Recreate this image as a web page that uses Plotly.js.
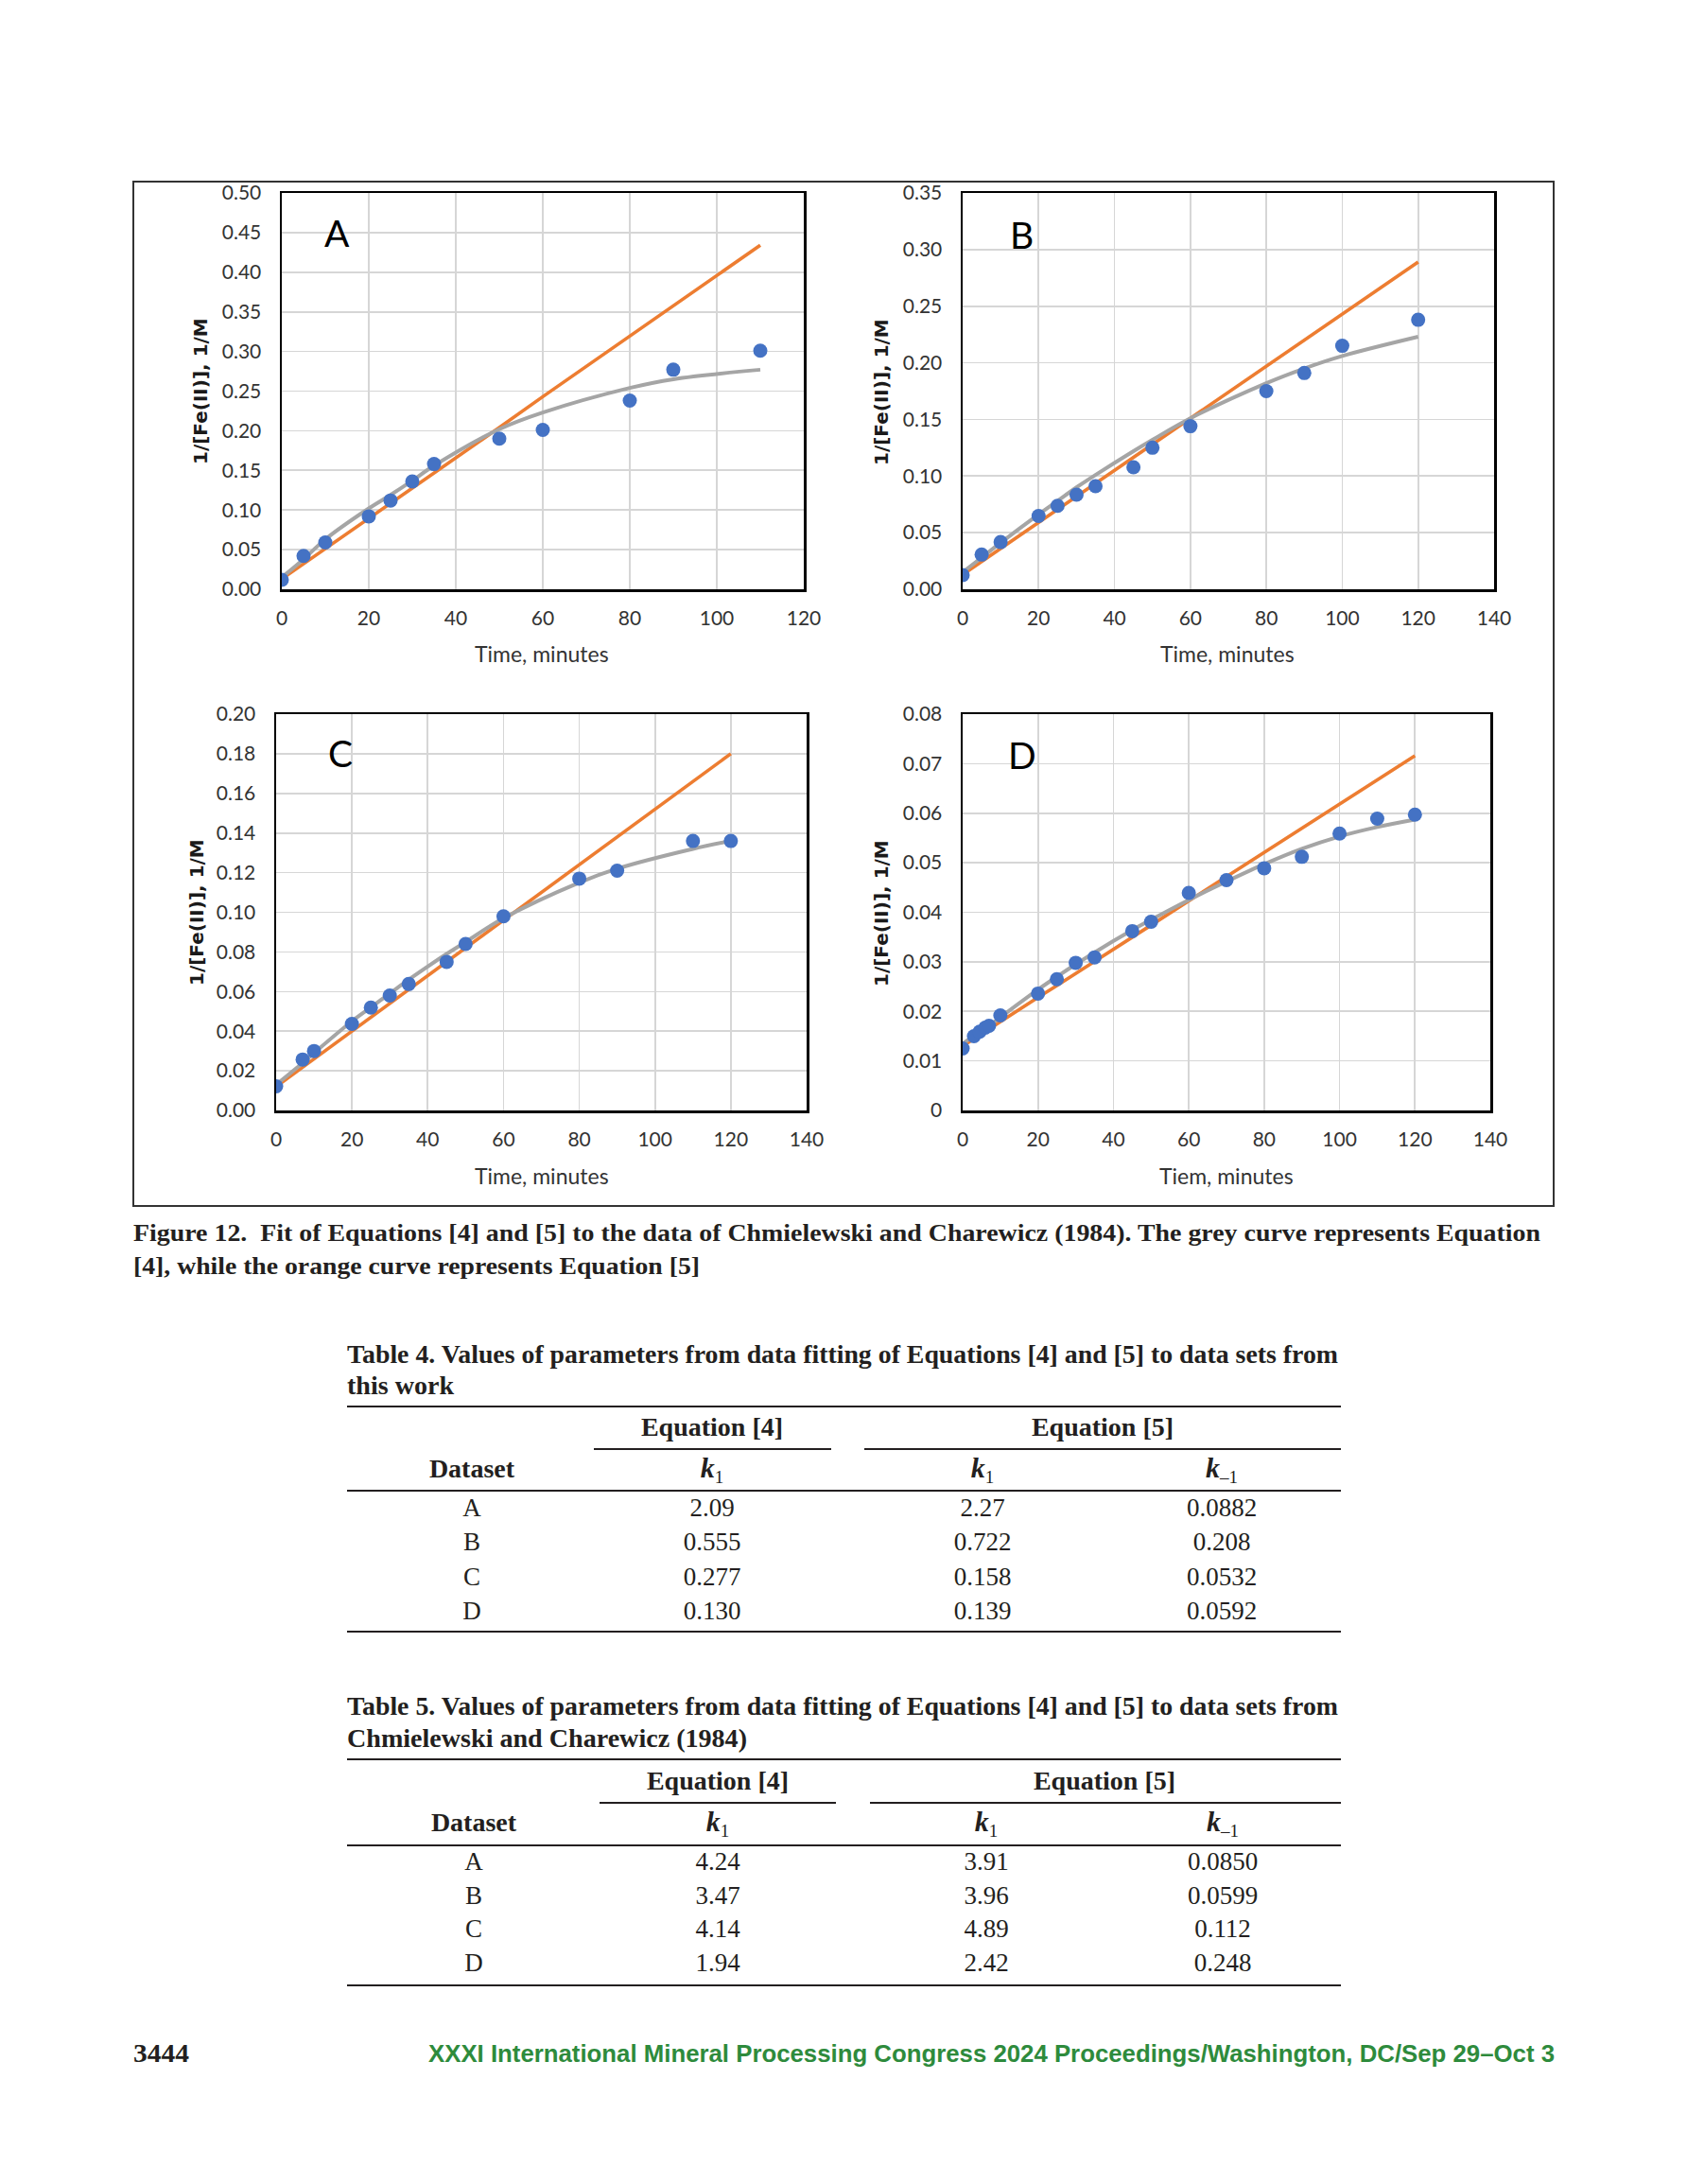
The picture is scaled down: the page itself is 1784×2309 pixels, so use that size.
<!DOCTYPE html>
<html><head><meta charset="utf-8">
<script src="https://cdn.plot.ly/plotly-3.0.1.min.js"></script>
<style>
html,body{margin:0;padding:0;background:#fff;}
#wrap{position:relative;width:1784px;height:2309px;overflow:hidden;}
#chart{position:absolute;left:0;top:0;width:1784px;height:2309px;}
#overlay{position:absolute;left:0;top:0;pointer-events:none;}
</style>
</head><body>
<div id="wrap"><div id="chart"></div><svg id="overlay" width="1784" height="2309" xmlns="http://www.w3.org/2000/svg"></svg></div>
<script>
// ---------------- DATA ----------------
const timeA = [0,5,10,20,25,30,35,50,60,80,90,110];
const dataA = [0.012,0.042,0.059,0.092,0.112,0.136,0.158,0.190,0.201,0.238,0.277,0.301];
const eq4A  = [0.015,0.038,0.063,0.102,0.119,0.137,0.156,0.202,0.223,0.254,0.265,0.277];
const eq5A  = [0.013,0.032,0.051,0.090,0.109,0.128,0.147,0.204,0.243,0.319,0.358,0.434];

const timeB = [0,5,10,20,25,30,35,45,50,60,80,90,100,120];
const dataB = [0.0125,0.0306,0.0417,0.0648,0.0737,0.0835,0.091,0.1077,0.125,0.144,0.175,0.191,0.215,0.238];
const eq4B  = [0.015,0.028,0.041,0.066,0.078,0.090,0.101,0.122,0.132,0.151,0.182,0.195,0.206,0.223];
const eq5B  = [0.013,0.0245,0.036,0.059,0.0705,0.082,0.0935,0.1165,0.128,0.151,0.197,0.220,0.243,0.289];

const timeC = [0,7,10,20,25,30,35,45,50,60,80,90,110,120];
const dataC = [0.0122,0.0257,0.030,0.0437,0.0519,0.058,0.0638,0.075,0.084,0.098,0.117,0.121,0.136,0.136];
const eq4C  = [0.013,0.024,0.029,0.045,0.052,0.059,0.066,0.079,0.085,0.097,0.115,0.122,0.132,0.136];
const eq5C  = [0.012,0.0218,0.026,0.040,0.047,0.054,0.061,0.075,0.082,0.096,0.124,0.138,0.166,0.180];

const timeD = [0,3,4.5,6,7,10,20,25,30,35,45,50,60,70,80,90,100,110,120];
const dataD = [0.0125,0.015,0.0159,0.0167,0.0171,0.0192,0.0236,0.0265,0.0298,0.0309,0.0362,0.0381,0.0439,0.0465,0.0489,0.0512,0.0559,0.0589,0.0597];
const eq4D  = [0.0135,0.015,0.0158,0.0166,0.0171,0.0188,0.0244,0.0270,0.0295,0.0319,0.0364,0.0385,0.0425,0.0462,0.0497,0.0528,0.0553,0.0572,0.0587];
const eq5D  = [0.013,0.0145,0.0152,0.0159,0.0164,0.0179,0.0228,0.0252,0.0276,0.0301,0.0350,0.0374,0.0423,0.0472,0.0520,0.0569,0.0618,0.0667,0.0716];

const panelLetters = ['A','B','C','D'];
const yTitle = '1/[Fe(II)], 1/M';
const xTitles = ['Time, minutes','Time, minutes','Time, minutes','Tiem, minutes'];

const captionLines = [
  'Figure 12.  Fit of Equations [4] and [5] to the data of Chmielewski and Charewicz (1984). The grey curve represents Equation',
  '[4], while the orange curve represents Equation [5]'
];
const datasets = ['A','B','C','D'];
const t4Title = ['Table 4. Values of parameters from data fitting of Equations [4] and [5] to data sets from','this work'];
const t4Eq4k1  = ['2.09','0.555','0.277','0.130'];
const t4Eq5k1  = ['2.27','0.722','0.158','0.139'];
const t4Eq5km1 = ['0.0882','0.208','0.0532','0.0592'];
const t5Title = ['Table 5. Values of parameters from data fitting of Equations [4] and [5] to data sets from','Chmielewski and Charewicz (1984)'];
const t5Eq4k1  = ['4.24','3.47','4.14','1.94'];
const t5Eq5k1  = ['3.91','3.96','4.89','2.42'];
const t5Eq5km1 = ['0.0850','0.0599','0.112','0.248'];
const pageNumber = '3444';
const footerText = 'XXXI International Mineral Processing Congress 2024 Proceedings/Washington, DC/Sep 29\u2013Oct 3';

// ---------------- LAYOUT ----------------
const W = 1784, H = 2309;
const px = x => x / W;
const py = y => 1 - y / H;

const panels = [
  {t:timeA, d:dataA, g:eq4A, o:eq5A, box:[298,850,204,623], xr:[0,120], yr:[0,0.5], dy:0.05, fmt:'.2f', letter:[356,246], yt:[212,414], xt:[573,691]},
  {t:timeB, d:dataB, g:eq4B, o:eq5B, box:[1018,1580,204,623], xr:[0,140], yr:[0,0.35], dy:0.05, fmt:'.2f', letter:[1080,248], yt:[932,414], xt:[1298,691]},
  {t:timeC, d:dataC, g:eq4C, o:eq5C, box:[292,853,755,1174], xr:[0,140], yr:[0,0.2], dy:0.02, fmt:'.2f', letter:[360,796], yt:[208,965], xt:[573,1243]},
  {t:timeD, d:dataD, g:eq4D, o:eq5D, box:[1018,1576,755,1174], xr:[0,140], yr:[0,0.08], dy:0.01, fmt:'', letter:[1081,798], yt:[932,965], xt:[1297,1243]}
];

const traces = [];
const layout = {
  width: W, height: H,
  margin: {l:0, r:0, t:0, b:0},
  paper_bgcolor: '#ffffff', plot_bgcolor: '#ffffff',
  showlegend: false,
  annotations: [], shapes: []
};
const tickFont = {family:'Lato, "Open Sans", sans-serif', size:21, color:'#333333'};

panels.forEach((p, i) => {
  const n = i === 0 ? '' : String(i + 1);
  const xa = 'x' + n, ya = 'y' + n;
  layout['xaxis' + n] = {
    domain:[px(p.box[0]), px(p.box[1])], range:p.xr, anchor:ya,
    tick0:0, dtick:20, ticks:'', ticklabelstandoff:10,
    showgrid:true, gridcolor:'#d6d6d6', gridwidth:1.6,
    showline:true, mirror:true, linecolor:'#000', linewidth:2.5,
    zeroline:false, tickfont:tickFont, fixedrange:true
  };
  layout['yaxis' + n] = {
    domain:[py(p.box[3]), py(p.box[2])], range:p.yr, anchor:xa,
    tick0:0, dtick:p.dy, tickformat:p.fmt, ticks:'', ticklabelstandoff:15,
    showgrid:true, gridcolor:'#d6d6d6', gridwidth:1.6,
    showline:true, mirror:true, linecolor:'#000', linewidth:2.5,
    zeroline:false, tickfont:tickFont, fixedrange:true
  };
  traces.push({x:p.t, y:p.o, xaxis:xa, yaxis:ya, type:'scatter', mode:'lines',
    line:{color:'#ED7D31', width:3.6}, hoverinfo:'skip', name:'Equation [5]'});
  traces.push({x:p.t, y:p.g, xaxis:xa, yaxis:ya, type:'scatter', mode:'lines',
    line:{color:'#A5A5A5', width:4, shape:'spline', smoothing:1}, hoverinfo:'skip', name:'Equation [4]'});
  traces.push({x:p.t, y:p.d, xaxis:xa, yaxis:ya, type:'scatter', mode:'markers',
    marker:{color:'#4472C4', size:15}, name:'Data'});

  layout.annotations.push({xref:'paper', yref:'paper', x:px(p.letter[0]), y:py(p.letter[1]),
    xanchor:'center', yanchor:'middle', showarrow:false, text:panelLetters[i],
    font:{family:'Lato, sans-serif', size:39, color:'#000'}});
  layout.annotations.push({xref:'paper', yref:'paper', x:px(p.yt[0]), y:py(p.yt[1]),
    xanchor:'center', yanchor:'middle', showarrow:false, text:'<b>' + yTitle + '</b>', textangle:-90,
    font:{family:'"DejaVu Sans", sans-serif', size:20, color:'#1a1a1a'}});
  layout.annotations.push({xref:'paper', yref:'paper', x:px(p.xt[0]), y:py(p.xt[1]),
    xanchor:'center', yanchor:'middle', showarrow:false, text:xTitles[i],
    font:{family:'Lato, sans-serif', size:23, color:'#333333'}});
});

layout.shapes.push({type:'rect', xref:'paper', yref:'paper',
  x0:px(141), x1:px(1643), y0:py(1275), y1:py(192),
  line:{color:'#333', width:2}, fillcolor:'rgba(0,0,0,0)', layer:'below'});

Plotly.newPlot('chart', traces, layout, {staticPlot:true, displayModeBar:false});

// ---------------- PAGE TEXT (caption, tables, footer) ----------------
const NS = 'http://www.w3.org/2000/svg';
const svg = document.getElementById('overlay');
const SERIF = "'Liberation Serif', 'DejaVu Serif', serif";
function addText(parts, o) {
  const el = document.createElementNS(NS, 'text');
  el.setAttribute('x', o.x); el.setAttribute('y', o.y);
  el.setAttribute('text-anchor', o.anchor || 'start');
  el.setAttribute('font-family', o.family || SERIF);
  el.setAttribute('font-size', o.size);
  el.setAttribute('font-weight', o.weight || 'normal');
  el.setAttribute('fill', o.fill || '#231f20');
  el.style.whiteSpace = 'pre';
  if (o.len) { el.setAttribute('textLength', o.len); el.setAttribute('lengthAdjust', 'spacingAndGlyphs'); }
  (typeof parts === 'string' ? [{t:parts}] : parts).forEach(p => {
    const ts = document.createElementNS(NS, 'tspan');
    ts.textContent = p.t;
    if (p.italic) ts.setAttribute('font-style', 'italic');
    if (p.weight) ts.setAttribute('font-weight', p.weight);
    if (p.size) ts.setAttribute('font-size', p.size);
    if (p.dy) ts.setAttribute('dy', p.dy);
    el.appendChild(ts);
  });
  svg.appendChild(el);
}
function addRule(x1, x2, y, w) {
  const l = document.createElementNS(NS, 'line');
  l.setAttribute('x1', x1); l.setAttribute('x2', x2);
  l.setAttribute('y1', y); l.setAttribute('y2', y);
  l.setAttribute('stroke', '#231f20'); l.setAttribute('stroke-width', w || 2);
  svg.appendChild(l);
}

// caption
addText(captionLines[0], {x:141, y:1312, size:26, weight:'bold', len:1488});
addText(captionLines[1], {x:141, y:1347, size:26, weight:'bold', len:599});

function drawTable(cfg) {
  addText(cfg.title[0], {x:367, y:cfg.titleY[0], size:28, weight:'bold', len:1048});
  addText(cfg.title[1], {x:367, y:cfg.titleY[1], size:28, weight:'bold', len:cfg.title2Len});
  addRule(367, 1418, cfg.top, 2.2);
  addText('Equation [4]', {x:cfg.eq4c, y:cfg.eqY, size:28, weight:'bold', anchor:'middle'});
  addText('Equation [5]', {x:cfg.eq5c, y:cfg.eqY, size:28, weight:'bold', anchor:'middle'});
  addRule(cfg.sub4[0], cfg.sub4[1], cfg.sub, 2.2);
  addRule(cfg.sub5[0], cfg.sub5[1], cfg.sub, 2.2);
  addText('Dataset', {x:cfg.cols[0], y:cfg.hY, size:28, weight:'bold', anchor:'middle'});
  const k1 = [{t:'k', italic:true, weight:'bold'}, {t:'1', size:19, dy:6, weight:'normal'}];
  const km1 = [{t:'k', italic:true, weight:'bold'}, {t:'\u20131', size:19, dy:6, weight:'normal'}];
  addText(k1, {x:cfg.cols[1], y:cfg.hY, size:30, anchor:'middle'});
  addText(k1, {x:cfg.cols[2], y:cfg.hY, size:30, anchor:'middle'});
  addText(km1, {x:cfg.cols[3], y:cfg.hY, size:30, anchor:'middle'});
  addRule(367, 1418, cfg.head, 2.2);
  cfg.rows.forEach((r, j) => {
    [datasets[j], cfg.c2[j], cfg.c3[j], cfg.c4[j]].forEach((v, c) => {
      addText(v, {x:cfg.cols[c], y:r, size:27, anchor:'middle'});
    });
  });
  addRule(367, 1418, cfg.bottom, 2.2);
}

drawTable({title:t4Title, titleY:[1441,1474], title2Len:113, top:1487,
  eq4c:753, eq5c:1166, eqY:1518, sub:1532, sub4:[628,879], sub5:[914,1418],
  cols:[499,753,1039,1292], hY:1562, head:1576, rows:[1603,1639,1676,1712], bottom:1725,
  c2:t4Eq4k1, c3:t4Eq5k1, c4:t4Eq5km1});

drawTable({title:t5Title, titleY:[1813,1847], title2Len:423, top:1860,
  eq4c:759, eq5c:1168, eqY:1892, sub:1906, sub4:[634,884], sub5:[920,1418],
  cols:[501,759,1043,1293], hY:1936, head:1951, rows:[1977,2013,2048,2084], bottom:2099,
  c2:t5Eq4k1, c3:t5Eq5k1, c4:t5Eq5km1});

// footer
addText(pageNumber, {x:141, y:2180, size:27, weight:'bold', len:59});
addText(footerText, {x:453, y:2180, size:25, weight:'bold', len:1191,
  family:"'Liberation Sans', Arial, sans-serif", fill:'#2e8b3c'});
</script>
</body></html>
